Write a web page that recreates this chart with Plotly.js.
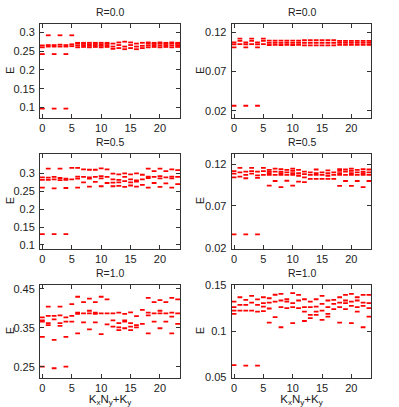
<!DOCTYPE html>
<html>
<head>
<meta charset="utf-8">
<script src="https://cdn.plot.ly/plotly-3.0.1.min.js"></script>
<style>body{margin:0;background:#fff}#chart{width:399px;height:407px}</style>
</head>
<body>
<div id="chart"></div>
<script>
// energy levels per momentum index K = KxNy+Ky (0..23), one list per panel
const levelsR00Left = [
  [0.097, 0.242, 0.260, 0.265], [0.262, 0.266, 0.292], [0.097, 0.242, 0.262, 0.266],
  [0.262, 0.267, 0.292], [0.097, 0.242, 0.262, 0.266], [0.263, 0.268, 0.292],
  [0.260, 0.265, 0.270, 0.272], [0.261, 0.265, 0.269, 0.272], [0.260, 0.264, 0.268, 0.272],
  [0.261, 0.265, 0.269, 0.272], [0.260, 0.264, 0.268, 0.272], [0.261, 0.265, 0.269, 0.272],
  [0.256, 0.262, 0.270], [0.258, 0.266, 0.273], [0.255, 0.262, 0.275],
  [0.258, 0.266, 0.273], [0.255, 0.262, 0.270], [0.258, 0.264, 0.272],
  [0.260, 0.265, 0.270, 0.273], [0.261, 0.265, 0.269, 0.272], [0.260, 0.265, 0.270, 0.273],
  [0.261, 0.265, 0.269, 0.272], [0.260, 0.265, 0.270, 0.273], [0.261, 0.265, 0.269, 0.272]
];
const levelsR00Right = [
  [0.0263, 0.1008, 0.1045, 0.1070], [0.1050, 0.1090, 0.1120], [0.0263, 0.1008, 0.1045, 0.1070],
  [0.1050, 0.1090, 0.1120], [0.0263, 0.1008, 0.1045, 0.1070], [0.1050, 0.1090, 0.1120],
  [0.1038, 0.1065, 0.1093], [0.1040, 0.1067, 0.1095], [0.1038, 0.1065, 0.1093],
  [0.1040, 0.1067, 0.1095], [0.1038, 0.1065, 0.1093], [0.1040, 0.1067, 0.1095],
  [0.1034, 0.1067, 0.1101], [0.1034, 0.1067, 0.1101], [0.1034, 0.1067, 0.1101],
  [0.1034, 0.1067, 0.1101], [0.1034, 0.1067, 0.1101], [0.1034, 0.1067, 0.1101],
  [0.1040, 0.1067, 0.1090], [0.1040, 0.1067, 0.1090], [0.1040, 0.1067, 0.1090],
  [0.1040, 0.1067, 0.1090], [0.1040, 0.1067, 0.1090], [0.1040, 0.1067, 0.1090]
];
const levelsR05Left = [
  [0.130, 0.260, 0.282, 0.289], [0.282, 0.288, 0.313], [0.130, 0.258, 0.283, 0.290],
  [0.281, 0.287, 0.313], [0.130, 0.259, 0.282, 0.285], [0.283, 0.315],
  [0.260, 0.285, 0.291, 0.315], [0.275, 0.290, 0.311], [0.263, 0.285, 0.289, 0.310],
  [0.276, 0.290, 0.310], [0.264, 0.286, 0.292, 0.314], [0.273, 0.290, 0.311],
  [0.264, 0.274, 0.283, 0.299], [0.265, 0.275, 0.282, 0.297], [0.262, 0.278, 0.290, 0.300],
  [0.266, 0.275, 0.283, 0.297], [0.263, 0.277, 0.280, 0.300], [0.268, 0.283, 0.296],
  [0.260, 0.287, 0.291, 0.313], [0.273, 0.290, 0.306], [0.262, 0.286, 0.292, 0.313],
  [0.272, 0.289, 0.306], [0.260, 0.286, 0.291, 0.311], [0.270, 0.290, 0.309]
];
const levelsR05Right = [
  [0.0358, 0.1040, 0.1085, 0.1115], [0.1050, 0.1100, 0.1155], [0.0358, 0.1030, 0.1070, 0.1110],
  [0.1085, 0.1115, 0.1155], [0.0358, 0.1035, 0.1065, 0.1110], [0.1070, 0.1115, 0.1155],
  [0.0943, 0.1070, 0.1090, 0.1110, 0.1130], [0.0997, 0.1070, 0.1110, 0.1145], [0.0923, 0.1070, 0.1090, 0.1110, 0.1140],
  [0.1000, 0.1070, 0.1100, 0.1130], [0.0943, 0.1070, 0.1090, 0.1120, 0.1145], [0.0990, 0.1060, 0.1090, 0.1130],
  [0.0983, 0.1040, 0.1080, 0.1110], [0.1022, 0.1070, 0.1100], [0.1022, 0.1070, 0.1090, 0.1135],
  [0.1022, 0.1070, 0.1100], [0.1022, 0.1060, 0.1090, 0.1125], [0.1022, 0.1070, 0.1100],
  [0.0940, 0.1070, 0.1090, 0.1120, 0.1140], [0.0997, 0.1070, 0.1110, 0.1135], [0.0940, 0.1070, 0.1090, 0.1120, 0.1145],
  [0.0997, 0.1070, 0.1100, 0.1130], [0.0923, 0.1070, 0.1090, 0.1110, 0.1140], [0.0997, 0.1070, 0.1100, 0.1135]
];
const levelsR10Left = [
  [0.250, 0.327, 0.366, 0.369, 0.377], [0.357, 0.362, 0.381, 0.4045], [0.246, 0.319, 0.372, 0.381],
  [0.355, 0.362, 0.382, 0.4045], [0.250, 0.327, 0.366, 0.377], [0.366, 0.381, 0.411],
  [0.336, 0.386, 0.389, 0.430], [0.364, 0.387, 0.416], [0.346, 0.387, 0.394, 0.425],
  [0.364, 0.386, 0.389, 0.416], [0.334, 0.387, 0.430], [0.359, 0.387, 0.423],
  [0.353, 0.369, 0.387], [0.344, 0.351, 0.362, 0.389], [0.349, 0.366, 0.369, 0.386],
  [0.344, 0.353, 0.362, 0.390], [0.351, 0.357, 0.380], [0.360, 0.396],
  [0.336, 0.382, 0.389, 0.427], [0.366, 0.387, 0.416], [0.349, 0.387, 0.394, 0.4215],
  [0.366, 0.387, 0.416], [0.336, 0.379, 0.389, 0.427], [0.360, 0.387, 0.4235]
];
const levelsR10Right = [
  [0.0631, 0.1190, 0.1227, 0.1264, 0.1326], [0.1227, 0.1290, 0.1373], [0.0626, 0.1227, 0.1289, 0.1345],
  [0.1227, 0.1315, 0.1388], [0.0626, 0.1215, 0.1289, 0.1350], [0.1220, 0.1270, 0.1308, 0.1373],
  [0.1096, 0.1250, 0.1315, 0.1362], [0.1155, 0.1326, 0.1400], [0.1045, 0.1264, 0.1337, 0.1409],
  [0.1253, 0.1326, 0.1351], [0.1089, 0.1264, 0.1308, 0.1417], [0.1253, 0.1337, 0.1398],
  [0.1113, 0.1216, 0.1264, 0.1351], [0.1144, 0.1180, 0.1264, 0.1326], [0.1180, 0.1216, 0.1270, 0.1351],
  [0.1126, 0.1227, 0.1300, 0.1388], [0.1162, 0.1191, 0.1264, 0.1337], [0.1242, 0.1300, 0.1345],
  [0.1096, 0.1264, 0.1315, 0.1373], [0.1242, 0.1308, 0.1337, 0.1398], [0.1089, 0.1278, 0.1326, 0.1409],
  [0.1216, 0.1264, 0.1337, 0.1373], [0.1045, 0.1278, 0.1315, 0.1398], [0.1162, 0.1253, 0.1308, 0.1398]
];

const panelTitles = ['R=0.0', 'R=0.0', 'R=0.5', 'R=0.5', 'R=1.0', 'R=1.0'];
const xTickVals = [0, 5, 10, 15, 20];
const yTickVals = [
  [0.1, 0.15, 0.2, 0.25, 0.3],
  [0.02, 0.07, 0.12],
  [0.1, 0.15, 0.2, 0.25, 0.3],
  [0.02, 0.07, 0.12],
  [0.25, 0.35, 0.45],
  [0.05, 0.1, 0.15]
];
const yTickText = [
  ['0.1', '0.15', '0.2', '0.25', '0.3'],
  ['0.02', '0.07', '0.12'],
  ['0.1', '0.15', '0.2', '0.25', '0.3'],
  ['0.02', '0.07', '0.12'],
  ['0.25', '0.35', '0.45'],
  ['0.05', '0.1', '0.15']
];
const yRanges = [
  [0.072, 0.322], [0.0107, 0.1306],
  [0.09, 0.354], [0.019, 0.132],
  [0.221, 0.461], [0.049, 0.151]
];
const xTitle = 'K<sub>x</sub>N<sub>y</sub>+K<sub>y</sub>';

const panels = [levelsR00Left, levelsR00Right, levelsR05Left, levelsR05Right, levelsR10Left, levelsR10Right];

const colDomains = [[0.1003, 0.4511], [0.5807, 0.9306]];
const rowDomains = [[0.7101, 0.9410], [0.3894, 0.6216], [0.0713, 0.3005]];

const font = {family: 'Liberation Sans, Arial, sans-serif', size: 11, color: '#222'};
const data = [];
const layout = {
  width: 399,
  height: 407,
  margin: {l: 0, r: 0, t: 0, b: 0},
  paper_bgcolor: '#fff',
  plot_bgcolor: '#fff',
  showlegend: false,
  font: font,
  annotations: []
};

panels.forEach(function (levels, i) {
  const xs = [];
  const ys = [];
  levels.forEach(function (es, k) {
    es.forEach(function (e) { xs.push(k); ys.push(e); });
  });
  const n = i === 0 ? '' : String(i + 1);
  data.push({
    x: xs,
    y: ys,
    xaxis: 'x' + n,
    yaxis: 'y' + n,
    mode: 'markers',
    type: 'scatter',
    marker: {symbol: 'line-ew', size: 3.4, line: {width: 1.8, color: '#ff0000'}},
    hoverinfo: 'x+y'
  });

  const col = i % 2;
  const row = Math.floor(i / 2);
  const axStyle = {
    showline: true, linecolor: '#333', linewidth: 1, mirror: 'ticks',
    ticks: 'inside', ticklen: 4, tickcolor: '#333', tickwidth: 1,
    showgrid: false, zeroline: false, tickfont: {size: 11}
  };
  const xa = Object.assign({}, axStyle, {
    domain: colDomains[col],
    anchor: 'y' + n,
    range: [-0.4, 23.4],
    tickmode: 'array',
    tickvals: xTickVals,
    ticklabelstandoff: 0
  });
  if (row === 2) xa.title = {text: xTitle, standoff: 5, font: {size: 11.5}};
  layout['xaxis' + n] = xa;
  layout['yaxis' + n] = Object.assign({}, axStyle, {
    domain: rowDomains[row],
    anchor: 'x' + n,
    range: yRanges[i],
    tickmode: 'array',
    tickvals: yTickVals[i],
    ticktext: yTickText[i],
    ticklabelstandoff: 2
  });

  layout.annotations.push({
    text: panelTitles[i],
    xref: 'paper', yref: 'paper',
    x: (colDomains[col][0] + colDomains[col][1]) / 2,
    xanchor: 'center',
    y: rowDomains[row][1],
    yanchor: 'bottom', yshift: 4,
    showarrow: false,
    font: {size: 10.5}
  });
  layout.annotations.push({
    text: 'E',
    xref: 'paper', yref: 'paper',
    x: col === 0 ? 10 / 399 : 200 / 399,
    xanchor: 'center',
    y: (rowDomains[row][0] + rowDomains[row][1]) / 2,
    yanchor: 'middle',
    textangle: -90,
    showarrow: false,
    font: {size: 11}
  });
});

Plotly.newPlot('chart', data, layout, {displayModeBar: false, staticPlot: true});
</script>
</body>
</html>
